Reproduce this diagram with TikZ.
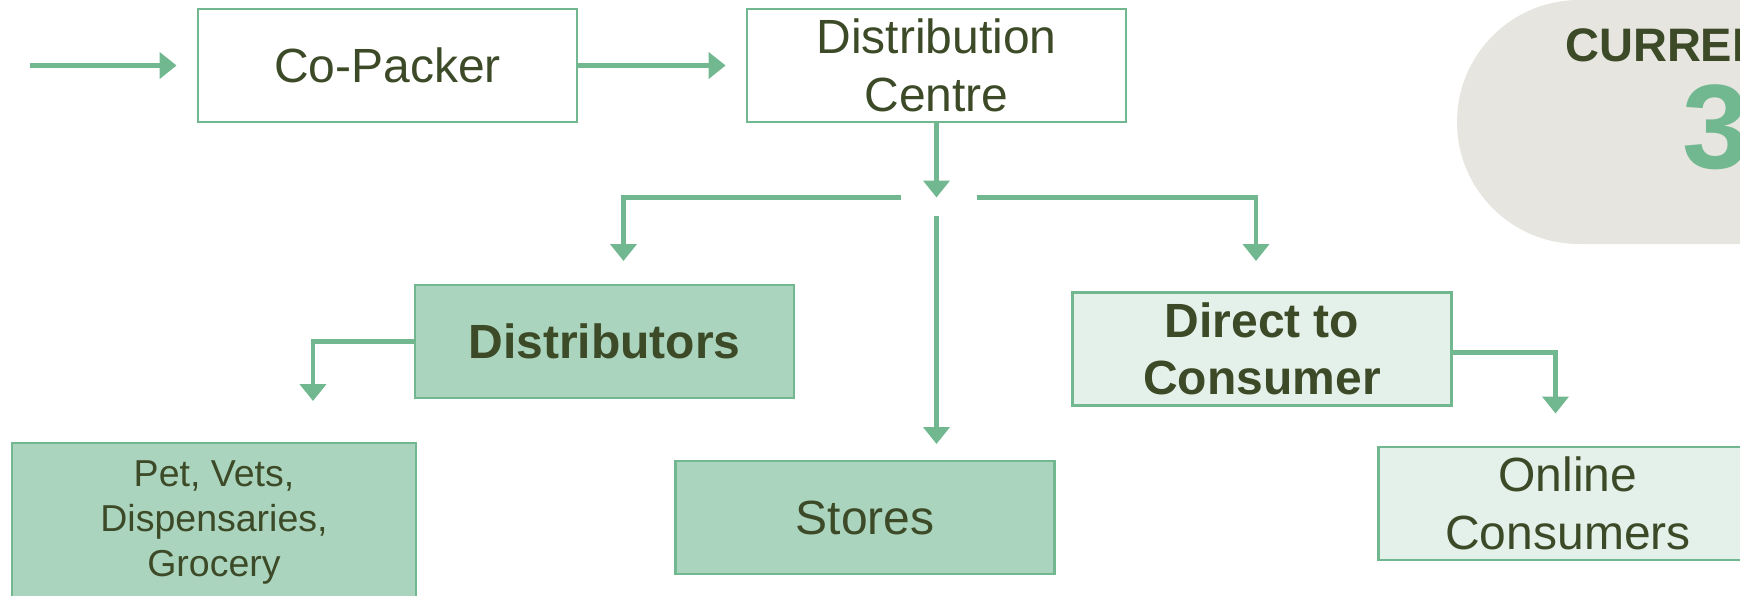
\documentclass[tikz,border=0pt]{standalone}
\usepackage{fontspec}
\setmainfont{Liberation Sans}
\usetikzlibrary{arrows.meta}
\definecolor{txt}{HTML}{3C4A27}
\definecolor{grn}{HTML}{71B890}
\definecolor{fillA}{HTML}{AAD4BD}
\definecolor{fillB}{HTML}{E4F1EA}
\definecolor{pillc}{HTML}{E6E5DF}
\begin{document}
\begin{tikzpicture}[x=1pt,y=-1pt,
  box/.style={draw=grn, line width=2.8pt, minimum width=379pt, minimum height=113pt,
    align=center, text=txt, inner sep=0pt, font=\fontsize{48}{57.5}\selectfont},
  boldbox/.style={box, font=\bfseries\fontsize{48}{57.5}\selectfont},
  smallbox/.style={box, font=\fontsize{37.5}{45}\selectfont},
  conn/.style={draw=grn, line width=4.2pt, -{Triangle[width=26pt,length=17pt]}},
]
\useasboundingbox (0,0) rectangle (1740,595);
\clip (0,0) rectangle (1740,595);
% badge
\fill[pillc, rounded corners=122pt] (1457,0) rectangle (2100,244);
\node[font=\bfseries\fontsize{47}{56}\selectfont, text=txt, inner sep=0pt, anchor=west] (cur) at (1565,45) {CURRENT};
\node[font=\bfseries\fontsize{120}{120}\selectfont, text=grn, inner sep=0pt, anchor=base west] (num) at (1682,168) {3};
% boxes
\node[box] (cop) at (387.5,65.5) {Co-Packer};
\node[box] (dc) at (936.5,65.5) {Distribution\\Centre};
\node[boldbox, fill=fillA] (dist) at (604.5,341.5) {Distributors};
\node[boldbox, fill=fillB] (dtc) at (1262,349) {Direct to\\Consumer};
\node[smallbox, fill=fillA, minimum width=404pt, minimum height=158pt] (pet) at (214,522) {Pet, Vets,\\Dispensaries,\\Grocery};
\node[box, fill=fillA] (st) at (865,517.5) {Stores};
\node[box, fill=fillB] (on) at (1568,503.5) {Online\\Consumers};
% coordinates
\coordinate (in0) at (30,65.5);
\coordinate (jc) at (936.5,197.5);
\coordinate (jl) at (901,197.5);
\coordinate (jr) at (976.5,197.5);
\coordinate (jm) at (936.5,216);
\coordinate (al) at (623.5,261);
\coordinate (ar) at (1256,261);
\coordinate (am) at (936.5,444);
\coordinate (ad) at (313,401);
\coordinate (ao) at (1555.5,413.5);
% connectors
\draw[conn, shorten >=20pt] (in0) -- (cop.west);
\draw[conn, shorten >=20pt] (cop.east) -- (dc.west);
\draw[conn] (dc.south) -- (jc);
\draw[conn] (jl) -| (al);
\draw[conn] (jr) -| (ar);
\draw[conn] (jm) -- (am);
\draw[conn] (dist.west) -| (ad);
\draw[conn] ([yshift=-3.5pt]dtc.east) -| (ao);
\end{tikzpicture}
\end{document}
